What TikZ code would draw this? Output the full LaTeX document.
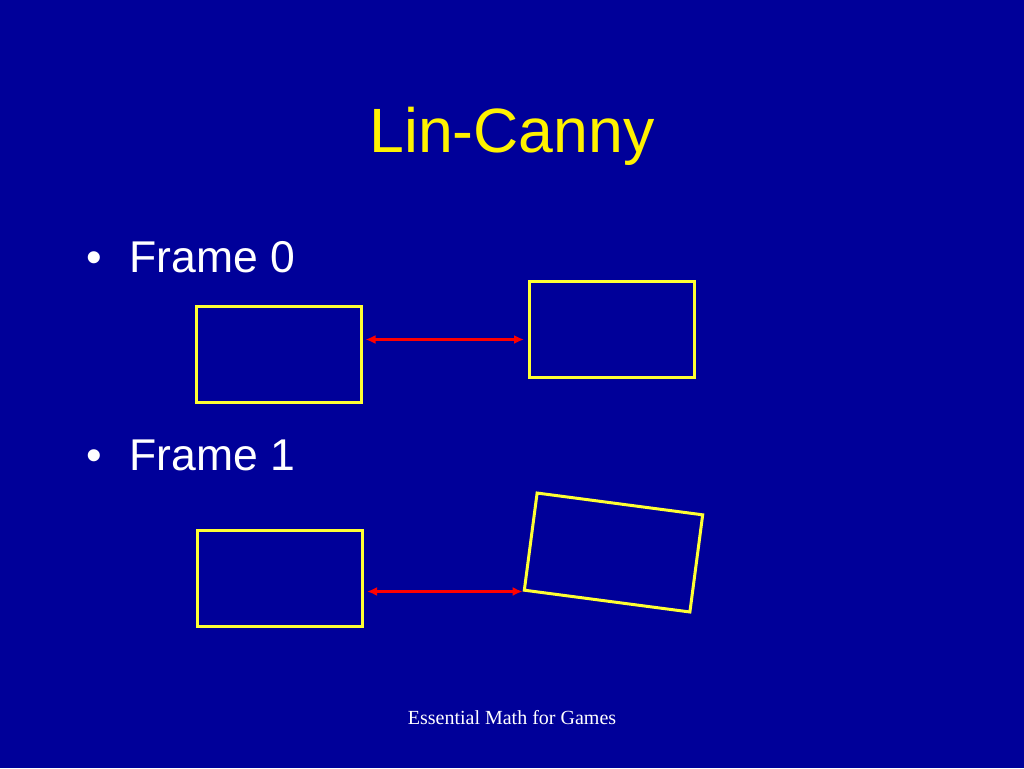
\documentclass[tikz,border=0pt]{standalone}
\usepackage{fontspec}
\setmainfont{Liberation Sans}
\newfontfamily\footfont{Liberation Serif}
\usepackage{xcolor}
\usepackage{tikz}
\usetikzlibrary{calc,arrows.meta}
\definecolor{slideblue}{HTML}{000099}
\definecolor{boxyellow}{HTML}{FFFF33}

\begin{document}
\begin{tikzpicture}[x=1pt, y=-1pt,
		box/.style={draw=boxyellow, line width=3pt, inner sep=0pt, minimum width=165pt, minimum height=96pt},
		link/.style={draw=red, line width=2.5pt, {Latex[length=10pt,width=9pt]}-{Latex[length=10pt,width=9pt]}},
		item/.style={anchor=base west, text=white, font=\fontsize{44.5}{50}\selectfont}]
		\fill[slideblue] (0,0) rectangle (1024,768);
		\useasboundingbox (0,0) rectangle (1024,768);
		
		\node[anchor=base, text=yellow, font=\fontsize{62.6}{70}\selectfont] (title) at (512,152) {Lin-Canny};
		
		\node[item] (bul0) at (83,272) {\textbullet};
		\node[item] (item0) at (126,272) {Frame 0};
		\node[item] (bul1) at (83,470) {\textbullet};
		\node[item] (item1) at (126,470) {Frame 1};
		
		\node[box] (lb0) at (278.5,354) {};
		\node[box] (rb0) at (612,329) {};
		\coordinate (a0) at (0,339.5);
		\draw[link] ([xshift=3pt]lb0.east |- a0) -- ([xshift=-4pt]rb0.west |- a0);
		
		\node[box] (lb1) at (280,578.5) {};
		\node[box, rotate=-7.5, minimum width=167pt, minimum height=98pt] (rb1) at (613.5,552.5) {};
		\draw[link] ([xshift=3pt]lb1.east |- rb1.south west) -- (rb1.south west);
		
		\node[anchor=base, text=white, font=\footfont\fontsize{20}{24}\selectfont] (foot) at (512,724) {Essential Math for Games};
	\end{tikzpicture}
\end{document}
